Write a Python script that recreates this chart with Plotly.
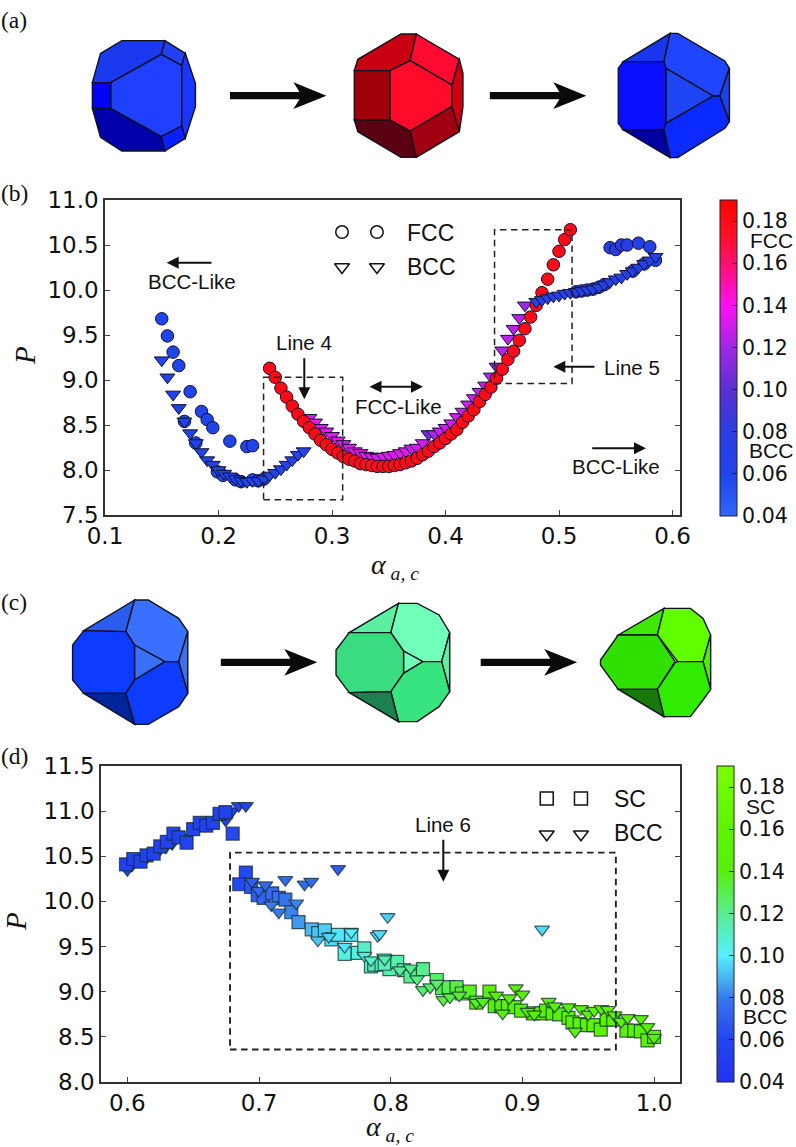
import plotly.graph_objects as go

W, H = 796, 1147

# ---------- panel (b) data ----------
bcc_left_circle_x = [0.15,0.155,0.16,0.165,0.175,0.185,0.19,0.195,0.17,0.18,0.21,0.225,0.23,0.199,0.204,0.215,0.22,0.23,0.235,0.24]
bcc_left_circle_y = [9.68,9.49,9.31,9.16,8.87,8.65,8.56,8.47,8.54,8.30,8.32,8.26,8.27,7.98,7.94,7.89,7.87,7.89,7.88,7.90]
bcc_left_circle_c = [0.06,0.06,0.06,0.06,0.06,0.06,0.06,0.06,0.06,0.06,0.06,0.06,0.06,0.06,0.06,0.06,0.06,0.06,0.06,0.06]

bcc_left_tri_x = [0.15,0.155,0.16,0.165,0.17,0.175,0.18,0.185,0.19,0.195,0.2,0.205,0.21,0.215,0.22,0.225,0.23,0.235,0.24,0.245,0.25,0.255,0.26,0.265,0.27,0.275]
bcc_left_tri_y = [9.22,9.03,8.84,8.69,8.54,8.41,8.30,8.20,8.11,8.06,8.0,7.96,7.93,7.9,7.88,7.87,7.88,7.88,7.9,7.94,7.97,8.01,8.06,8.11,8.17,8.21]
bcc_left_tri_c = [0.065,0.065,0.065,0.065,0.065,0.065,0.065,0.065,0.065,0.065,0.065,0.065,0.065,0.065,0.065,0.065,0.065,0.065,0.065,0.065,0.065,0.065,0.065,0.065,0.065,0.065]

mid_tri_x = [0.28,0.285,0.29,0.295,0.3,0.305,0.31,0.315,0.32,0.325,0.33,0.335,0.34,0.345,0.35,0.355,0.36,0.365,0.37,0.375,0.38,0.385,0.39,0.395,0.40,0.405,0.41,0.415,0.42,0.425,0.43,0.435,0.44,0.445,0.45,0.455,0.46,0.465,0.47]
mid_tri_y = [8.58,8.53,8.47,8.43,8.38,8.33,8.29,8.25,8.21,8.19,8.16,8.15,8.14,8.15,8.16,8.17,8.19,8.21,8.24,8.25,8.30,8.40,8.40,8.43,8.47,8.52,8.59,8.65,8.73,8.80,8.87,8.94,9.04,9.15,9.33,9.46,9.57,9.69,9.83]
mid_tri_c = [0.136,0.136,0.136,0.136,0.136,0.136,0.136,0.136,0.136,0.136,0.134,0.134,0.134,0.134,0.134,0.134,0.134,0.134,0.13,0.13,0.13,0.105,0.122,0.13,0.13,0.13,0.13,0.13,0.13,0.13,0.13,0.13,0.126,0.105,0.126,0.126,0.126,0.126,0.12]

fcc_circle_x = [0.245,0.25,0.255,0.26,0.265,0.27,0.275,0.28,0.285,0.29,0.295,0.30,0.305,0.31,0.315,0.32,0.325,0.33,0.335,0.34,0.345,0.35,0.355,0.36,0.365,0.37,0.375,0.38,0.385,0.39,0.395,0.40,0.405,0.41,0.415,0.42,0.425,0.43,0.435,0.44,0.445,0.45,0.455,0.46,0.465,0.47,0.475,0.48,0.485,0.49,0.495,0.50,0.505,0.51]
fcc_circle_y = [9.13,9.03,8.91,8.81,8.71,8.62,8.54,8.47,8.40,8.33,8.28,8.23,8.19,8.15,8.12,8.10,8.07,8.06,8.05,8.04,8.04,8.04,8.05,8.06,8.08,8.10,8.13,8.17,8.21,8.26,8.30,8.35,8.40,8.45,8.53,8.60,8.67,8.76,8.84,8.92,9.02,9.12,9.23,9.32,9.44,9.57,9.70,9.83,9.97,10.12,10.28,10.43,10.56,10.67]
fcc_circle_c = [0.18,0.18,0.18,0.18,0.18,0.18,0.18,0.18,0.18,0.18,0.18,0.18,0.18,0.18,0.18,0.18,0.18,0.18,0.18,0.18,0.18,0.18,0.18,0.18,0.18,0.18,0.18,0.18,0.18,0.18,0.18,0.18,0.18,0.18,0.18,0.18,0.18,0.18,0.18,0.18,0.18,0.18,0.18,0.18,0.18,0.18,0.18,0.18,0.18,0.18,0.18,0.18,0.18,0.18]

bcc_right_circle_x = [0.515,0.52,0.525,0.53,0.535,0.54,0.545,0.55,0.555,0.56,0.57,0.58,0.575,0.565,0.585]
bcc_right_circle_y = [9.98,9.99,10.0,10.01,10.03,10.06,10.47,10.45,10.5,10.5,10.52,10.48,10.29,10.21,10.33]
bcc_right_circle_c = [0.065,0.065,0.065,0.065,0.065,0.065,0.075,0.08,0.075,0.075,0.07,0.07,0.065,0.065,0.065]

bcc_right_tri_x = [0.48,0.485,0.49,0.495,0.5,0.505,0.51,0.515,0.52,0.525,0.53,0.535,0.54,0.545,0.55,0.555,0.56,0.565,0.57,0.575,0.58,0.585]
bcc_right_tri_y = [9.87,9.89,9.91,9.93,9.94,9.96,9.97,9.98,9.99,10.0,10.01,10.03,10.06,10.09,10.12,10.14,10.18,10.21,10.25,10.29,10.33,10.37]
bcc_right_tri_c = [0.07,0.07,0.07,0.07,0.07,0.07,0.07,0.07,0.07,0.07,0.07,0.07,0.07,0.07,0.07,0.07,0.07,0.07,0.07,0.07,0.07,0.07]

legend_b_x = [0.3088, 0.3396]
legend_b_y_circle = [10.644, 10.644]
legend_b_y_tri = [10.256, 10.256]

box4_x, box4_y = [0.2397, 0.3094], [7.67, 9.03]
box5_x, box5_y = [0.4432, 0.5115], [8.96, 10.67]

# ---------- panel (d) data ----------
sq_left_x = [0.599,0.6045,0.61,0.6146,0.62,0.625,0.63,0.635,0.639,0.645,0.65,0.655,0.66,0.665,0.67,0.6745,0.68]
sq_left_y = [10.41,10.47,10.44,10.51,10.53,10.61,10.66,10.75,10.71,10.65,10.80,10.87,10.84,10.87,10.97,10.99,10.75]
sq_left_c = [0.058,0.058,0.058,0.058,0.058,0.058,0.058,0.058,0.058,0.058,0.058,0.058,0.058,0.058,0.058,0.058,0.062]

sq_main_x = [0.69,0.685,0.694,0.699,0.7035,0.71,0.715,0.72,0.7245,0.73,0.74,0.745,0.75,0.755,0.76,0.77,0.765,0.775,0.78,0.785,0.7875,0.793,0.799,0.7954,0.805,0.81,0.815,0.8245,0.835,0.839,0.844,0.85,0.854,0.86,0.865,0.875,0.879,0.884,0.889,0.894,0.899,0.908,0.914,0.918,0.923,0.928,0.935,0.938,0.9435,0.949,0.954,0.9595,0.964,0.969,0.979,0.985,0.99,0.995,1.0]
sq_main_y = [10.32,10.19,10.16,10.07,10.04,10.09,10.04,10.02,9.88,9.77,9.69,9.65,9.68,9.58,9.63,9.63,9.42,9.43,9.48,9.28,9.30,9.30,9.25,9.31,9.33,9.24,9.17,9.25,9.13,9.04,9.05,9.05,8.98,9.0,8.88,9.0,8.84,8.84,8.84,8.83,8.79,8.76,8.76,8.79,8.76,8.75,8.71,8.66,8.64,8.63,8.63,8.58,8.69,8.69,8.57,8.57,8.56,8.46,8.50]
sq_main_c = [0.062,0.062,0.066,0.07,0.072,0.074,0.076,0.078,0.082,0.085,0.09,0.092,0.094,0.096,0.098,0.098,0.105,0.105,0.11,0.112,0.112,0.113,0.115,0.113,0.116,0.118,0.12,0.12,0.125,0.13,0.13,0.132,0.134,0.136,0.14,0.14,0.142,0.142,0.144,0.144,0.145,0.146,0.146,0.146,0.147,0.147,0.148,0.148,0.148,0.148,0.148,0.15,0.148,0.15,0.15,0.15,0.15,0.15,0.15]

tri_left_x = [0.6,0.6035,0.6134,0.6235,0.629,0.634,0.645,0.659,0.6747,0.6795,0.6846,0.69]
tri_left_y = [10.35,10.40,10.46,10.55,10.60,10.64,10.71,10.84,10.90,11.0,11.06,11.06]
tri_left_c = [0.058,0.058,0.058,0.058,0.058,0.058,0.058,0.058,0.058,0.058,0.058,0.058]

tri_main_x = [0.6947,0.6997,0.7048,0.72,0.7346,0.7396,0.76,0.7093,0.715,0.7283,0.7447,0.753,0.765,0.77,0.78,0.79,0.785,0.795,0.7977,0.7916,0.7954,0.915,0.807,0.815,0.82,0.8245,0.83,0.835,0.84,0.845,0.852,0.865,0.87,0.88,0.885,0.89,0.895,0.9,0.904,0.909,0.92,0.9245,0.935,0.94,0.9445,0.95,0.9545,0.96,0.965,0.97,0.975,0.98,0.99,0.995,1.0]
tri_main_y = [10.22,10.12,10.18,10.24,10.19,10.22,10.36,9.96,9.88,9.98,9.57,9.61,9.50,9.66,9.40,9.62,9.35,9.38,9.83,9.64,9.36,9.69,9.24,9.26,9.14,9.02,9.05,9.09,8.91,8.94,8.96,8.88,8.89,8.96,8.76,8.93,9.04,8.97,8.78,8.75,8.89,8.84,8.83,8.56,8.81,8.75,8.79,8.81,8.80,8.74,8.67,8.71,8.70,8.61,8.49]
tri_main_c = [0.07,0.074,0.074,0.074,0.074,0.074,0.07,0.08,0.08,0.082,0.092,0.095,0.098,0.1,0.108,0.097,0.11,0.112,0.094,0.096,0.115,0.096,0.118,0.12,0.122,0.125,0.126,0.126,0.132,0.132,0.134,0.136,0.138,0.14,0.14,0.14,0.14,0.142,0.144,0.144,0.146,0.146,0.148,0.148,0.148,0.148,0.15,0.15,0.15,0.15,0.15,0.15,0.15,0.15,0.15]

legend_d_x = [0.9185, 0.9445]
legend_d_y_square = [11.14, 11.14]
legend_d_y_tri = [10.745, 10.745]

box6_x, box6_y = [0.678, 0.971], [8.36, 10.54]

# ---------- ticks ----------
x_ticks_b = [0.1,0.2,0.3,0.4,0.5,0.6]
y_ticks_b = [7.5,8.0,8.5,9.0,9.5,10.0,10.5,11.0]
x_ticks_d = [0.6,0.7,0.8,0.9,1.0]
y_ticks_d = [8.0,8.5,9.0,9.5,10.0,10.5,11.0,11.5]
cbar_ticks = [0.04,0.06,0.08,0.10,0.12,0.14,0.16,0.18]

CMIN, CMAX = 0.04, 0.19
def stop(v): return (v - CMIN) / (CMAX - CMIN)
scale_b = [[stop(0.04),"#3065fa"],[stop(0.06),"#1f45ea"],[stop(0.08),"#2a3ce2"],[stop(0.10),"#5a30d0"],
           [stop(0.12),"#a028e4"],[stop(0.14),"#ff10f4"],[stop(0.16),"#ff1070"],[stop(0.175),"#ff1020"],[stop(0.19),"#ff0000"]]
scale_d = [[stop(0.04),"#2233ee"],[stop(0.06),"#2244f0"],[stop(0.08),"#3a78ee"],[stop(0.09),"#48b8f0"],[stop(0.10),"#55f0ff"],
           [stop(0.12),"#58ee90"],[stop(0.14),"#58f00c"],[stop(0.16),"#5cf400"],[stop(0.19),"#78ff00"]]

fig = go.Figure()
EDGE_B = dict(color="#101030", width=1)
EDGE_D = dict(color="rgba(20,45,45,0.75)", width=1.2)
TRI = 13
CIR = 12.5
SQ = 13

def add(x, y, c, sym, size, xa, ya, cax, edge):
    fig.add_trace(go.Scatter(x=x, y=y, mode="markers", xaxis=xa, yaxis=ya, showlegend=False,
                             marker=dict(symbol=sym, size=size, color=c, coloraxis=cax, line=edge)))

def add_open(x, y, sym, size, xa, ya):
    fig.add_trace(go.Scatter(x=x, y=y, mode="markers", xaxis=xa, yaxis=ya, showlegend=False,
                             marker=dict(symbol=sym, size=size, color="white", line=dict(color="#111", width=1.5))))

add(bcc_left_circle_x, bcc_left_circle_y, bcc_left_circle_c, "circle", CIR, "x", "y", "coloraxis", EDGE_B)
add(bcc_left_tri_x, bcc_left_tri_y, bcc_left_tri_c, "triangle-down", TRI, "x", "y", "coloraxis", EDGE_B)
add(mid_tri_x, mid_tri_y, mid_tri_c, "triangle-down", TRI, "x", "y", "coloraxis", EDGE_B)
add(fcc_circle_x, fcc_circle_y, fcc_circle_c, "circle", CIR, "x", "y", "coloraxis", EDGE_B)
add(bcc_right_circle_x, bcc_right_circle_y, bcc_right_circle_c, "circle", CIR, "x", "y", "coloraxis", EDGE_B)
add(bcc_right_tri_x, bcc_right_tri_y, bcc_right_tri_c, "triangle-down", TRI, "x", "y", "coloraxis", EDGE_B)
add_open(legend_b_x, legend_b_y_circle, "circle", CIR, "x", "y")
add_open(legend_b_x, legend_b_y_tri, "triangle-down", TRI, "x", "y")

add(tri_left_x, tri_left_y, tri_left_c, "triangle-down", TRI, "x2", "y2", "coloraxis2", EDGE_D)
add(sq_left_x, sq_left_y, sq_left_c, "square", SQ, "x2", "y2", "coloraxis2", EDGE_D)
add(sq_main_x, sq_main_y, sq_main_c, "square", SQ, "x2", "y2", "coloraxis2", EDGE_D)
add(tri_main_x, tri_main_y, tri_main_c, "triangle-down", TRI, "x2", "y2", "coloraxis2", EDGE_D)
add_open(legend_d_x, legend_d_y_square, "square", SQ, "x2", "y2")
add_open(legend_d_x, legend_d_y_tri, "triangle-down", TRI, "x2", "y2")

shapes = []
annotations = []

def rect(xs, ys, xa, ya, lw):
    shapes.append(dict(type="rect", xref=xa, yref=ya, x0=xs[0], x1=xs[1], y0=ys[0], y1=ys[1],
                       line=dict(color="#222", width=lw, dash="6.5px,4.5px")))
rect(box4_x, box4_y, "x", "y", 1.5)
rect(box5_x, box5_y, "x", "y", 1.5)
rect(box6_x, box6_y, "x2", "y2", 1.9)

def px(x): return x / W
def py(y): return 1 - y / H

def poly(points, fill, sx, sy, oy=0):
    d = "M" + " L".join(f"{px(a / sx):.5f},{py(oy + b / sy):.5f}" for a, b in points) + " Z"
    shapes.append(dict(type="path", xref="paper", yref="paper", path=d, fillcolor=fill, layer="above",
                       line=dict(color="#10131c", width=1.4)))

def solid(parts, s=1.97, oy=0):
    for pts, col in parts:
        poly(pts, col, s, 3, oy)

# Illustration (a)
solid([
 ([(240,122),(325,122),(318,163),(218,248),(182,248),(198,160)], "#1a38ee"),
 ([(325,122),(365,160),(358,197),(318,163)], "#2040f2"),
 ([(318,163),(358,197),(358,378),(318,410),(218,325),(218,248)], "#2040ff"),
 ([(365,160),(385,250),(385,320),(365,415),(358,378),(358,197)], "#1a35ff"),
 ([(182,248),(218,248),(218,325),(182,325)], "#0000ff"),
 ([(182,325),(218,325),(318,410),(325,453),(240,453),(198,412)], "#0000aa"),
 ([(318,410),(358,378),(365,415),(325,453)], "#0a20ff"),
])
solid([
 ([(790,102),(820,102),(808,182),(768,212),(698,212),(705,178)], "#c80012"),
 ([(820,102),(905,178),(890,255),(808,182)], "#ff0a30"),
 ([(808,182),(890,255),(890,320),(808,393),(768,360),(768,212)], "#ff0a28"),
 ([(698,212),(768,212),(768,360),(698,360)], "#a00008"),
 ([(905,178),(912,220),(912,320),(905,395),(890,320),(890,255)], "#cc0010"),
 ([(698,360),(768,360),(808,393),(820,472),(790,472),(705,395)], "#5a0012"),
 ([(808,393),(890,320),(905,395),(820,472)], "#a00010"),
])
solid([
 ([(1320,100),(1228,185),(1308,185)], "#1a35ee"),
 ([(1320,100),(1335,100),(1428,183),(1437,205),(1418,288),(1405,288),(1312,205),(1308,185)], "#1f45ff"),
 ([(1312,205),(1405,288),(1312,370)], "#1f45f5"),
 ([(1228,185),(1308,185),(1312,205),(1312,370),(1308,388),(1228,390),(1218,370),(1218,205)], "#0a10ff"),
 ([(1437,205),(1437,365),(1418,288)], "#1f40ee"),
 ([(1405,288),(1418,288),(1437,365),(1428,385),(1335,473),(1320,473),(1308,388),(1312,370)], "#0a2aff"),
 ([(1228,390),(1308,388),(1320,473)], "#0000a0"),
])
# Illustration (c)
solid([
 ([(265,30),(165,122),(248,125)], "#2a5cee"),
 ([(265,30),(292,30),(352,85),(370,125),(352,215),(325,215),(265,165),(248,125)], "#3a70ff"),
 ([(265,165),(325,215),(265,270)], "#3a70f8"),
 ([(165,122),(248,125),(265,165),(265,270),(248,310),(165,310),(143,270),(143,165)], "#0d3cff"),
 ([(370,125),(370,310),(352,215)], "#3a70ee"),
 ([(325,215),(352,215),(370,310),(352,350),(292,403),(265,403),(248,310),(265,270)], "#0d3cff"),
 ([(165,310),(248,310),(265,403)], "#00249a"),
], oy=590)
solid([
 ([(785,40),(688,128),(770,128)], "#5af0a0"),
 ([(785,40),(822,40),(865,75),(886,128),(870,215),(833,215),(795,183),(770,128)], "#70ffb8"),
 ([(795,183),(833,215),(795,250)], "#70ffb8"),
 ([(688,128),(770,128),(795,183),(795,250),(770,305),(688,308),(662,255),(662,180)], "#3adc82"),
 ([(886,128),(886,305),(870,215)], "#5af0a0"),
 ([(833,215),(870,215),(886,305),(865,350),(822,395),(785,395),(770,305),(795,250)], "#38e47f"),
 ([(688,308),(770,305),(785,395)], "#1c8050"),
], oy=590)
solid([
 ([(1308,55),(1218,135),(1295,135)], "#40e808"),
 ([(1308,55),(1360,55),(1385,85),(1400,135),(1385,215),(1335,215),(1295,135)], "#60ff00"),
 ([(1218,135),(1295,135),(1330,215),(1295,298),(1218,298),(1183,225),(1183,210)], "#30e000"),
 ([(1400,135),(1400,298),(1385,215)], "#50ee00"),
 ([(1335,215),(1385,215),(1400,298),(1385,330),(1360,380),(1308,380),(1295,298),(1330,218)], "#30ec00"),
 ([(1218,298),(1295,298),(1308,380)], "#187808"),
], oy=590)

# Big arrows between the illustrations
def big_arrow(x0, xhead, xtip, yc, oy):
    pts = [(x0,yc-11),(xhead+12,yc-11),(xhead,yc-40),(xtip,yc),(xhead,yc+40),(xhead+12,yc+11),(x0,yc+11)]
    d = "M" + " L".join(f"{px(a/1.97):.5f},{py(oy+b/3):.5f}" for a, b in pts) + " Z"
    shapes.append(dict(type="path", xref="paper", yref="paper", path=d, fillcolor="#0a0a0a", line=dict(width=0)))
big_arrow(453, 578, 643, 287, 0)
big_arrow(965, 1090, 1155, 287, 0)
big_arrow(435, 560, 625, 217, 590)
big_arrow(947, 1072, 1137, 217, 590)

def text(s, x, y, size, family="Liberation Sans", angle=0, xanchor="center"):
    annotations.append(dict(text=s, xref="paper", yref="paper", x=px(x), y=py(y), showarrow=False,
                            xanchor=xanchor, yanchor="middle", textangle=angle,
                            font=dict(family=family, size=size, color="#111")))

def arrow(x0, y0, x1, y1, both=False):
    annotations.append(dict(text="", xref="paper", yref="paper", axref="pixel", ayref="pixel",
                            x=px(x1), y=py(y1), ax=x0 - x1, ay=y0 - y1, showarrow=True,
                            arrowhead=2, startarrowhead=2, arrowside="end+start" if both else "end",
                            arrowsize=1.2, startarrowsize=1.2, arrowwidth=2, arrowcolor="#111"))

for lab, x, y in [("(a)", 14, 20), ("(b)", 14, 193), ("(c)", 14, 602), ("(d)", 14, 756)]:
    text(lab, x, y, 23.5, "Liberation Serif")

text("FCC", 405, 233, 23, xanchor="left")
text("BCC", 405, 267, 23, xanchor="left")
text("SC", 612, 799, 23, xanchor="left")
text("BCC", 612, 833, 23, xanchor="left")

text("BCC-Like", 192, 281, 20.5)
arrow(213, 262.7, 166.7, 262.7)
text("Line 4", 304, 343, 20.5)
arrow(304.3, 356.7, 304.3, 399.3)
text("FCC-Like", 398, 406, 20.5)
arrow(368, 386.7, 423, 386.7, both=True)
text("Line 5", 632, 367, 20.5)
arrow(596, 366.7, 553.3, 366.7)
text("BCC-Like", 616, 467, 20.5)
arrow(590.7, 448.3, 646, 448.3)
text("Line 6", 443.3, 824, 20.5)
arrow(443.3, 838.3, 443.3, 881.7)

text("FCC", 771, 241, 21)
text("BCC", 771, 451, 21)
text("SC", 760, 806, 21)
text("BCC", 765, 1016, 21)

AL = "<i>α</i><sub><i> a, c</i></sub>"
text(AL, 395, 566, 28, "Liberation Serif")
text(AL, 390, 1128, 28, "Liberation Serif")
text("<i>P</i>", 25, 355, 29, "Liberation Serif", angle=-90)
text("<i>P</i>", 16, 922, 29, "Liberation Serif", angle=-90)

TICKF = dict(family="DejaVu Sans", size=23, color="#111")
def xaxis(dom, rng, ticks, anchor):
    return dict(domain=[px(dom[0]), px(dom[1])], range=rng, tickvals=ticks, tickformat=".1f", anchor=anchor,
                ticks="inside", ticklen=5, tickcolor="#444", showline=True, linecolor="#333", linewidth=1.5,
                mirror=True, showgrid=False, zeroline=False, tickfont=TICKF)
def yaxis(dom, rng, ticks, anchor):
    return dict(domain=[py(dom[1]), py(dom[0])], range=rng, tickvals=ticks, tickformat=".1f", anchor=anchor,
                ticks="inside", ticklen=5, tickcolor="#444", showline=True, linecolor="#333", linewidth=1.5,
                mirror="allticks", showgrid=False, zeroline=False, tickfont=TICKF)

def cbar(x, ytop):
    return dict(x=px(x), xanchor="left", xpad=0, ypad=0, y=py(ytop), yanchor="top", lenmode="fraction", len=316 / H,
                thicknessmode="pixels", thickness=17, tickmode="array", tickvals=cbar_ticks, tickformat=".2f",
                ticks="inside", ticklen=5, tickcolor="#222", outlinecolor="#222", outlinewidth=1,
                tickfont=dict(family="DejaVu Sans", size=20.5, color="#111"))

fig.update_layout(
    width=W, height=H, margin=dict(l=0, r=0, t=0, b=0, pad=0, autoexpand=False), autosize=False,
    paper_bgcolor="white", plot_bgcolor="white", showlegend=False,
    xaxis=xaxis((105, 680), [0.1, 0.6066], x_ticks_b, "y"),
    yaxis=yaxis((200, 515), [7.5, 11.0], y_ticks_b, "x"),
    xaxis2=xaxis((101, 680), [0.58, 1.0197], x_ticks_d, "y2"),
    yaxis2=yaxis((766, 1082), [8.0, 11.5], y_ticks_d, "x2"),
    coloraxis=dict(cmin=CMIN, cmax=CMAX, colorscale=scale_b, colorbar=cbar(720, 200)),
    coloraxis2=dict(cmin=CMIN, cmax=CMAX, colorscale=scale_d, colorbar=cbar(717, 766)),
    shapes=shapes, annotations=annotations,
)

fig.write_html("out.html", config={"displayModeBar": False},
               post_script="document.body.style.margin='0';document.documentElement.style.overflow='hidden';")
